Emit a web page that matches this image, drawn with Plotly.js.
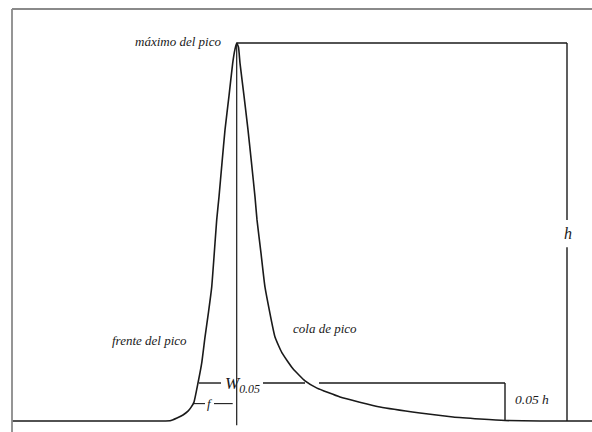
<!DOCTYPE html>
<html>
<head>
<meta charset="utf-8">
<script src="https://cdn.plot.ly/plotly-3.0.1.min.js"></script>
<style>html,body{margin:0;padding:0;background:#fff;}#chart{width:592px;height:432px;}</style>
</head>
<body>
<div id="chart"></div>
<script>
// Peak profile (time in arbitrary units, signal as % of peak height h)
var peakTime = [12, 165, 170, 177, 183, 188, 191, 194, 198, 201.7, 205, 208.5, 211.7, 214, 216.7, 219, 222, 225, 229, 232.7, 235, 236.7,
                238.5, 240, 244, 248, 251.5, 255, 257, 261, 265, 275, 282, 293, 305, 317, 340, 380, 420, 453, 480, 505, 540, 592];
var peakSignal = [0, 0, 0.05, 0.79, 1.59, 2.6, 3.6, 5.0, 10.05, 15.3, 22.2, 28.8, 35.4, 43.4, 53.2, 59.3, 68.3, 77.0, 86.0, 94.7, 98.4, 100,
                  98.9, 94.7, 86.0, 77.0, 68.3, 59.3, 53.2, 44.4, 35.4, 22.2, 18.0, 13.8, 10.6, 8.7, 6.35, 3.7, 2.12, 1.06, 0.53, 0.13, 0, 0];

// Construction values
var apexTime = 236.7, peakHeight = 100;
var hMarkerTime = 567;
var hGap = [46.0, 53.2];
var widthLevel = 10.05, widthLeft = 199, widthRight = 505;
var widthGaps = [[221, 263], [305, 319]];
var frontLevel = 4.6, frontLeft = 193;
var frontGap = [205, 214];
var frameLeft = 12, frameTop = 109, frameRight = 592, frameBottom = -3;

var labels = {
  max: "máximo del pico",
  front: "frente del pico",
  tail: "cola de pico",
  h: "h",
  h05: "0.05 h",
  W: "W",
  Wsub: "0.05",
  f: "f"
};

var ink = "#1a1a1a";
var lineStyle = {color: ink, width: 1.4};
function seg(x, y, extra) {
  return {type: "scatter", mode: "lines", x: x, y: y, hoverinfo: "skip", showlegend: false,
          line: Object.assign({}, lineStyle, extra || {})};
}

var traces = [
  {type: "scatter", mode: "lines", x: peakTime, y: peakSignal, line: {color: ink, width: 1.6, shape: "spline", smoothing: 0.4}, hoverinfo: "skip", showlegend: false},
  // apex vertical
  seg([apexTime, apexTime], [peakHeight, -1.1], {width: 1.2}),
  // top horizontal to h marker
  seg([apexTime, hMarkerTime], [peakHeight, peakHeight]),
  // h vertical with gap for label
  seg([hMarkerTime, hMarkerTime], [peakHeight, hGap[1]]),
  seg([hMarkerTime, hMarkerTime], [hGap[0], 0]),
  // W0.05 width line
  seg([widthLeft, widthGaps[0][0]], [widthLevel, widthLevel]),
  seg([widthGaps[0][1], widthGaps[1][0]], [widthLevel, widthLevel]),
  seg([widthGaps[1][1], widthRight], [widthLevel, widthLevel]),
  seg([widthRight, widthRight], [widthLevel, 0]),
  // f line
  seg([frontLeft, frontGap[0]], [frontLevel, frontLevel], {width: 1.1}),
  seg([frontGap[1], apexTime - 4], [frontLevel, frontLevel], {width: 1.1}),
  // frame
  seg([frameLeft, frameLeft], [frameBottom, frameTop], {color: "#8a8a8a", width: 1.8}),
  seg([frameLeft, frameRight], [frameTop, frameTop], {color: "#8a8a8a", width: 1.8})
];

var fnt = {family: "'Liberation Serif', 'Times New Roman', Times, serif", size: 13, color: ink, style: "italic"};
function ann(text, x, y, xanchor, size) {
  return {text: text, x: x, y: y, xref: "x", yref: "y", showarrow: false,
          xanchor: xanchor || "center", yanchor: "middle",
          font: Object.assign({}, fnt, size ? {size: size} : {})};
}

var annotations = [
  ann(labels.max, 223, 100.4, "right"),
  ann(labels.front, 149, 21.2),
  ann(labels.tail, 325, 24.6),
  ann(labels.h05, 532, 5.6, "center", 13.5),
  ann(labels.h, 568, 49.7, "center", 16),
  ann(labels.W + "<sub>" + labels.Wsub + "</sub>", 242, 9.4, "center", 17),
  ann(labels.f, 209.5, frontLevel, "center", 13)
];

var layout = {
  width: 592, height: 432,
  margin: {l: 0, r: 0, t: 0, b: 0},
  paper_bgcolor: "#ffffff", plot_bgcolor: "#ffffff",
  xaxis: {range: [0, 592], visible: false, fixedrange: true},
  yaxis: {range: [-2.91, 111.38], visible: false, fixedrange: true},
  annotations: annotations,
  showlegend: false
};

Plotly.newPlot("chart", traces, layout, {staticPlot: true, displayModeBar: false});
</script>
</body>
</html>
